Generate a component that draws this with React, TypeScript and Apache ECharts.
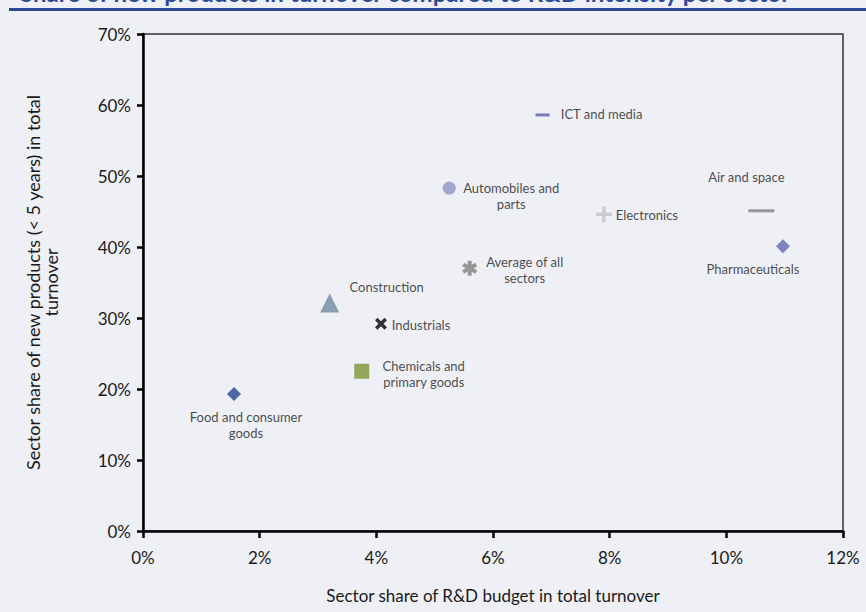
import React, { useEffect, useRef } from "react";
import * as echarts from "echarts";

const sectors = [
  "ICT and media",
  "Automobiles and\nparts",
  "Electronics",
  "Air and space",
  "Pharmaceuticals",
  "Average of all\nsectors",
  "Construction",
  "Industrials",
  "Chemicals and\nprimary goods",
  "Food and consumer\ngoods",
];
const rdShare = [6.85, 5.25, 7.9, 10.6, 10.97, 5.6, 3.2, 4.08, 3.75, 1.56];
const newProductShare = [58.6, 48.3, 44.6, 45.1, 40.1, 37.0, 32.1, 29.2, 22.5, 19.3];

const xTicks = [0, 2, 4, 6, 8, 10, 12];
const yTicks = [0, 10, 20, 30, 40, 50, 60, 70];

function barsPath(angles: number[], L: number, w: number) {
  let d = "";
  for (const a of angles) {
    const r = (a * Math.PI) / 180;
    const c = Math.cos(r), s = Math.sin(r);
    const px = -s * (w / 2), py = c * (w / 2);
    const pts = [
      [L * c + px, L * s + py],
      [L * c - px, L * s - py],
      [-L * c - px, -L * s - py],
      [-L * c + px, -L * s + py],
    ];
    d += "M" + pts.map((p) => p[0].toFixed(3) + "," + p[1].toFixed(3)).join("L") + "Z";
  }
  return "path://" + d;
}

const dash = "path://M0,0L10,0L10,2L0,2Z";
const plus = barsPath([0, 90], 5, 2.2);
const cross = barsPath([45, 135], 5, 2.6);
const asterisk = barsPath([90, 30, 150], 5, 2.6);

const styles = [
  { symbol: dash, size: [14, 3], color: "#5b5ea6", offset: [59, -1] },
  { symbol: "circle", size: 13, color: "#8f92c8", offset: [62, 8] },
  { symbol: plus, size: 16, color: "#c2c3cb", offset: [43, 1] },
  { symbol: dash, size: [26, 3], color: "#808080", offset: [-15, -34] },
  { symbol: "diamond", size: 14, color: "#6366b0", offset: [-30, 23] },
  { symbol: asterisk, size: 15, color: "#808080", offset: [55, 2] },
  { symbol: "triangle", size: 19, color: "#6e8aa0", offset: [57, -16] },
  { symbol: cross, size: 12, color: "#000000", offset: [40, 1] },
  { symbol: "rect", size: 15, color: "#7c9533", offset: [62, 3] },
  { symbol: "diamond", size: 14, color: "#26448f", offset: [12, 31] },
];

const FONT = "Lato, 'Open Sans', sans-serif";

export default function App() {
  const ref = useRef<HTMLDivElement>(null);
  useEffect(() => {
    if (!ref.current) return;
    const chart = echarts.init(ref.current, undefined, { renderer: "svg" });
    const data = sectors.map((name, i) => ({
      name,
      value: [rdShare[i], newProductShare[i]],
      symbol: styles[i].symbol,
      symbolSize: styles[i].size,
      itemStyle: { color: styles[i].color },
      label: {
        show: true,
        position: "inside",
        offset: styles[i].offset,
        formatter: name,
        align: "center",
        verticalAlign: "middle",
        color: "#1a1a1a",
        fontSize: 13,
        lineHeight: 16,
        fontFamily: FONT,
      },
    }));
    chart.setOption({
      animation: false,
      backgroundColor: "#eff0f5",
      textStyle: { fontFamily: FONT },
      graphic: [
        {
          type: "text",
          left: 20,
          top: -20,
          style: {
            text: "Share of new products in turnover compared to R&D intensity per sector",
            fill: "#2a4a94",
            font: "bold 24px " + FONT,
          },
        },
        {
          type: "rect",
          shape: { x: 9, y: 8, width: 857, height: 3 },
          style: { fill: "#2a4a94" },
        },
      ],
      grid: {
        left: 143,
        right: 23,
        top: 34,
        bottom: 81,
        show: true,
        borderColor: "#333",
        borderWidth: 1.5,
        backgroundColor: "transparent",
      },
      xAxis: {
        type: "value",
        min: 0,
        max: 12,
        interval: 2,
        name: "Sector share of R&D budget in total turnover",
        nameLocation: "middle",
        nameGap: 56,
        nameTextStyle: { fontSize: 17, color: "#1a1a1a", fontFamily: FONT },
        axisLine: { show: true, lineStyle: { color: "#000", width: 2.5 } },
        axisTick: { show: true, length: 7, lineStyle: { color: "#000", width: 2.5 } },
        axisLabel: {
          fontSize: 17,
          color: "#1a1a1a",
          margin: 18,
          formatter: (v: number) => (xTicks.includes(v) ? v + "%" : ""),
        },
        splitLine: { show: false },
      },
      yAxis: {
        type: "value",
        min: 0,
        max: 70,
        interval: 10,
        name: "Sector share of new products (< 5 years) in total\nturnover",
        nameLocation: "middle",
        nameGap: 83,
        nameTextStyle: { fontSize: 18, color: "#1a1a1a", lineHeight: 18, fontFamily: FONT },
        axisLine: { show: true, lineStyle: { color: "#000", width: 2.5 } },
        axisTick: { show: true, length: 6, lineStyle: { color: "#000", width: 2.5 } },
        axisLabel: {
          fontSize: 17,
          color: "#1a1a1a",
          margin: 12,
          formatter: (v: number) => (yTicks.includes(v) ? v + "%" : ""),
        },
        splitLine: { show: false },
      },
      series: [
        {
          type: "scatter",
          data,
          z: 3,
        },
      ],
    });
    return () => chart.dispose();
  }, []);
  return <div ref={ref} style={{ width: 866, height: 612, position: "absolute", left: 0, top: 0 }} />;
}
